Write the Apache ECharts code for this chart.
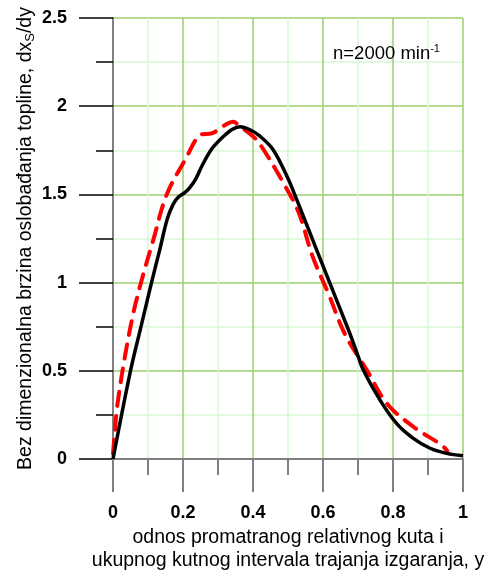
<!DOCTYPE html>
<html><head><meta charset="utf-8">
<script src="https://cdn.jsdelivr.net/npm/echarts@6/dist/echarts.min.js"></script>
<style>html,body{margin:0;padding:0;background:#fff}#c{width:491px;height:571px}</style>
</head><body><div id="c"></div>
<script>
// Data
const blackX = [0,0.05,0.08,0.11,0.134,0.155,0.172,0.187,0.205,0.22,0.237,0.253,0.28,0.31,0.34,0.363,0.39,0.42,0.458,0.5,0.525,0.55,0.575,0.6,0.625,0.65,0.675,0.7,0.715,0.763,0.81,0.858,0.906,0.953,1.0];
const blackY = [0,0.5,0.75,1.0,1.19,1.36,1.445,1.485,1.51,1.54,1.59,1.657,1.752,1.818,1.868,1.884,1.868,1.83,1.752,1.59,1.47,1.345,1.22,1.095,0.97,0.845,0.72,0.585,0.505,0.334,0.202,0.117,0.061,0.032,0.019];
const redX = [0,0.005,0.012,0.034,0.058,0.082,0.115,0.153,0.206,0.253,0.282,0.32,0.344,0.358,0.406,0.434,0.482,0.53,0.57,0.617,0.662,0.725,0.782,0.858,0.939,0.955];
const redY = [0.03,0.15,0.3,0.58,0.826,1.015,1.241,1.497,1.695,1.84,1.846,1.893,1.912,1.893,1.818,1.742,1.582,1.40,1.15,0.93,0.71,0.505,0.316,0.183,0.079,0.045];
const xMin = 0, xMax = 1, xStep = 0.2;
const yMin = 0, yMax = 2.5, yStep = 0.5;
const xTitle1 = 'odnos promatranog relativnog kuta i';
const xTitle2 = 'ukupnog kutnog intervala trajanja izgaranja, y';
const yTitleMain = 'Bez dimenzionalna brzina oslobađanja topline, dx';
const yTitleSub = 'S';
const yTitleEnd = '/dy';
const noteMain = 'n=2000 min';
const noteSup = '-1';

const FONT = '"Liberation Sans", Arial, sans-serif';
const pairs = (xs, ys) => xs.map((x, i) => [x, ys[i]]);
const chart = echarts.init(document.getElementById('c'), null, {renderer: 'canvas'});
const majorGreen = '#9ccf6e';
const minorGreen = '#d8f8d4';
chart.setOption({
  animation: false,
  backgroundColor: '#fff',
  grid: {left: 113, top: 18, right: 28, bottom: 112, containLabel: false, outerBoundsMode: 'none'},
  xAxis: {
    type: 'value', min: xMin, max: xMax, interval: xStep,
    name: xTitle1 + '\n' + xTitle2,
    nameLocation: 'middle', nameGap: 67, nameMoveOverlap: false,
    nameTextStyle: {fontFamily: FONT, fontSize: 19.5, color: '#000', lineHeight: 23},
    axisLine: {show: true, onZero: false, lineStyle: {color: '#808080', width: 2}},
    axisTick: {show: true, length: 33, lineStyle: {color: '#808080', width: 2}},
    minorTick: {show: true, splitNumber: 2, length: 16, lineStyle: {color: '#808080', width: 2}},
    axisLabel: {fontFamily: FONT, fontSize: 18, fontWeight: 'bold', color: '#000', margin: 45,
      formatter: v => String(Math.round(v * 10) / 10)},
    splitLine: {show: true, lineStyle: {color: majorGreen, width: 1.5}},
    minorSplitLine: {show: true, lineStyle: {color: minorGreen, width: 1.5}}
  },
  yAxis: {
    type: 'value', min: yMin, max: yMax, interval: yStep,
    name: '{m|' + yTitleMain + '}{s|' + yTitleSub + '}{m|' + yTitleEnd + '}',
    nameLocation: 'middle', nameGap: 76, nameRotate: 90, nameMoveOverlap: false,
    nameTextStyle: {fontFamily: FONT, fontSize: 19.5, color: '#000',
      rich: {
        m: {fontFamily: FONT, fontSize: 19.5, color: '#000'},
        s: {fontFamily: FONT, fontSize: 13, color: '#000', padding: [10, 0, 0, 0]}
      }},
    axisLine: {show: true, onZero: false, lineStyle: {color: '#808080', width: 2}},
    axisTick: {show: true, length: 34, lineStyle: {color: '#000', width: 1.5}},
    minorTick: {show: true, splitNumber: 2, length: 17, lineStyle: {color: '#000', width: 1.5}},
    axisLabel: {fontFamily: FONT, fontSize: 18, fontWeight: 'bold', color: '#000', margin: 46,
      formatter: v => String(Math.round(v * 10) / 10)},
    splitLine: {show: true, lineStyle: {color: majorGreen, width: 1.5}},
    minorSplitLine: {show: true, lineStyle: {color: minorGreen, width: 1.5}}
  },
  graphic: [{
    type: 'text', left: 333, top: 43, z: 10,
    style: {
      text: '{m|' + noteMain + '}{p|' + noteSup + '}',
      rich: {
        m: {fontFamily: FONT, fontSize: 18.5, fill: '#000'},
        p: {fontFamily: FONT, fontSize: 11, fill: '#000', padding: [0, 0, 10, 0]}
      }
    }
  }],
  series: [
    {type: 'line', data: pairs(redX, redY), smooth: 0.35, showSymbol: false, z: 3,
      lineStyle: {color: '#ff0000', width: 4, type: [14, 10], cap: 'round'}},
    {type: 'line', data: pairs(blackX, blackY), smooth: 0.35, showSymbol: false, z: 4,
      lineStyle: {color: '#000', width: 3.5}}
  ]
});
</script></body></html>
